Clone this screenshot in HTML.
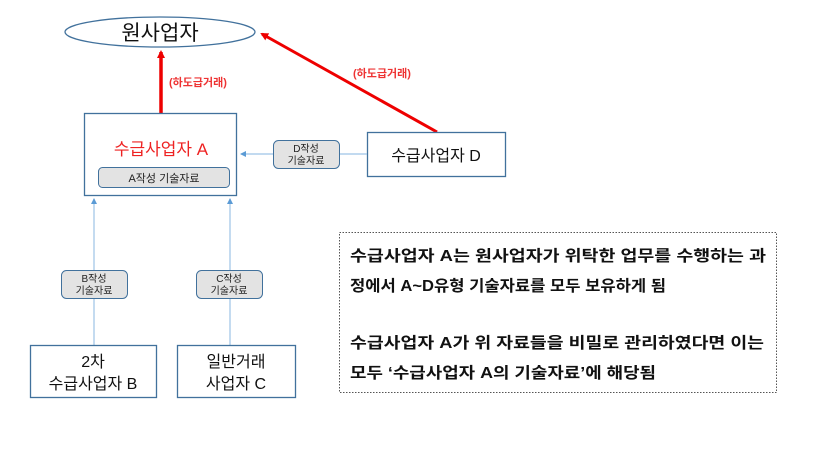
<!DOCTYPE html>
<html><head><meta charset="utf-8"><style>
html,body{margin:0;padding:0;background:#fff}
svg{display:block}
text{font-family:"Liberation Sans","Noto Sans CJK KR",sans-serif}
</style></head><body>
<svg width="819" height="454" viewBox="0 0 819 454" xmlns="http://www.w3.org/2000/svg">
<defs>
<marker id="ra" markerWidth="8" markerHeight="8" refX="6" refY="4" orient="auto" markerUnits="userSpaceOnUse"><path d="M0,0 L8,4 L0,8 z" fill="#e00"/></marker>
<marker id="ba" markerWidth="6" markerHeight="6" refX="5" refY="3" orient="auto" markerUnits="userSpaceOnUse"><path d="M0,0 L6,3 L0,6 z" fill="#5b9bd5"/></marker>
</defs>
<ellipse cx="160" cy="32" rx="95" ry="15" fill="#fff" stroke="#41719c" stroke-width="1.3"/>
<text x="160" y="40" font-size="21" text-anchor="middle" fill="#111">원사업자</text>
<line x1="161" y1="113" x2="161" y2="52" stroke="#e00" stroke-width="3.5" marker-end="url(#ra)"/>
<line x1="437" y1="132" x2="262" y2="34" stroke="#e00" stroke-width="3" marker-end="url(#ra)"/>
<text x="169" y="86" font-size="11" font-weight="bold" fill="#e33">(하도급거래)</text>
<text x="353" y="77" font-size="11" font-weight="bold" fill="#e33">(하도급거래)</text>
<rect x="84.5" y="113.5" width="152" height="82" fill="#fff" stroke="#41719c" stroke-width="1.3"/>
<text x="161" y="155" font-size="17" text-anchor="middle" fill="#e22">수급사업자 A</text>
<rect x="98.5" y="167.5" width="131" height="20" rx="4" fill="#e3e3e3" stroke="#41719c"/>
<text x="164" y="182" font-size="11" text-anchor="middle" fill="#222">A작성 기술자료</text>
<rect x="367.5" y="132.5" width="138" height="44" fill="#fff" stroke="#41719c" stroke-width="1.3"/>
<text x="436" y="161" font-size="16" text-anchor="middle" fill="#111">수급사업자 D</text>
<line x1="367" y1="154" x2="241" y2="154" stroke="#9dc3e6" stroke-width="1.2" marker-end="url(#ba)"/>
<rect x="273.5" y="140.5" width="66" height="28" rx="5" fill="#e3e3e3" stroke="#41719c"/>
<text x="306" y="152" font-size="10" text-anchor="middle" fill="#222">D작성</text>
<text x="306" y="164" font-size="10" text-anchor="middle" fill="#222">기술자료</text>
<line x1="94" y1="345" x2="94" y2="199" stroke="#9dc3e6" stroke-width="1.2" marker-end="url(#ba)"/>
<line x1="230" y1="345" x2="230" y2="199" stroke="#9dc3e6" stroke-width="1.2" marker-end="url(#ba)"/>
<rect x="61.5" y="270.5" width="66" height="28" rx="5" fill="#e3e3e3" stroke="#41719c"/>
<text x="94" y="282" font-size="10" text-anchor="middle" fill="#222">B작성</text>
<text x="94" y="294" font-size="10" text-anchor="middle" fill="#222">기술자료</text>
<rect x="196.5" y="270.5" width="66" height="28" rx="5" fill="#e3e3e3" stroke="#41719c"/>
<text x="229" y="282" font-size="10" text-anchor="middle" fill="#222">C작성</text>
<text x="229" y="294" font-size="10" text-anchor="middle" fill="#222">기술자료</text>
<rect x="30.5" y="345.5" width="126" height="52" fill="#fff" stroke="#41719c" stroke-width="1.3"/>
<text x="93" y="367" font-size="16" text-anchor="middle" fill="#111">2차</text>
<text x="93" y="389" font-size="16" text-anchor="middle" fill="#111">수급사업자 B</text>
<rect x="177.5" y="345.5" width="118" height="52" fill="#fff" stroke="#41719c" stroke-width="1.3"/>
<text x="236" y="367" font-size="16" text-anchor="middle" fill="#111">일반거래</text>
<text x="236" y="389" font-size="16" text-anchor="middle" fill="#111">사업자 C</text>
<rect x="339.5" y="232.5" width="437" height="160" fill="#fff" stroke="#555" stroke-dasharray="1.5,1.5"/>
<g font-size="15.5" font-weight="bold" fill="#111">
<text x="350" y="261" textLength="416" lengthAdjust="spacingAndGlyphs">수급사업자 A는 원사업자가 위탁한 업무를 수행하는 과</text>
<text x="350" y="291" textLength="316" lengthAdjust="spacingAndGlyphs">정에서 A~D유형 기술자료를 모두 보유하게 됨</text>
<text x="350" y="348" textLength="414" lengthAdjust="spacingAndGlyphs">수급사업자 A가 위 자료들을 비밀로 관리하였다면 이는</text>
<text x="350" y="378" textLength="306" lengthAdjust="spacingAndGlyphs">모두 ‘수급사업자 A의 기술자료’에 해당됨</text>
</g>
</svg>
</body></html>
